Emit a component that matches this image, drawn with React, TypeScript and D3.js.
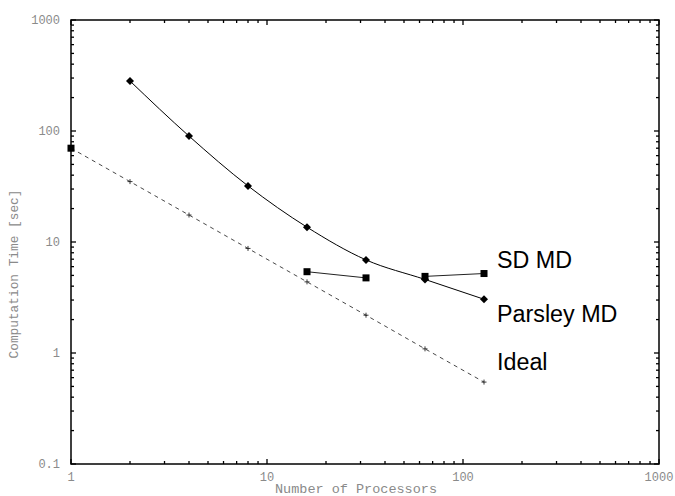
import React from "react";
import * as d3 from "d3";

// processors used in the runs
const procs = [1, 2, 4, 8, 16, 32, 64, 128];

// Parsley MD timings (sec), starts at 2 processors
const parsleyProcs = [2, 4, 8, 16, 32, 64, 128];
const parsleyTime = [282, 90, 32, 13.6, 6.9, 4.6, 3.05];

// SD MD timings, drawn as separate runs
const sdRuns = [
  { procs: [1], time: [70] },
  { procs: [16, 32], time: [5.4, 4.75] },
  { procs: [64, 128], time: [4.9, 5.2] },
];

// ideal speedup from the serial time
const idealTime = [70, 35, 17.5, 8.75, 4.375, 2.19, 1.09, 0.547];

const xTickLabels = ["1", "10", "100", "1000"];
const yTickLabels = ["0.1", "1", "10", "100", "1000"];

const W = 675;
const H = 496;
const margin = { top: 20, right: 16, bottom: 32, left: 71 };

const App = () => {
  const x = d3
    .scaleLog()
    .domain([1, 1000])
    .range([margin.left, W - margin.right]);
  const y = d3
    .scaleLog()
    .domain([0.1, 1000])
    .range([H - margin.bottom, margin.top]);

  const [x0, x1] = x.range();
  const [y0, y1] = y.range();

  const minorX: number[] = [];
  for (const d of [1, 10, 100]) for (let k = 2; k <= 9; k++) minorX.push(d * k);
  const minorY: number[] = [];
  for (const d of [0.1, 1, 10, 100]) for (let k = 2; k <= 9; k++) minorY.push(d * k);

  const smooth = d3
    .line<number>()
    .x((_, i) => x(parsleyProcs[i]))
    .y((d) => y(d))
    .curve(d3.curveMonotoneX);

  const straight = d3
    .line<[number, number]>()
    .x((d) => x(d[0]))
    .y((d) => y(d[1]));

  const tickFont = {
    fontFamily: "'Liberation Mono', monospace",
    fontSize: 12,
    fill: "#8a8a8a",
  };
  const titleFont = { ...tickFont, fontSize: 13.5 };
  const labelFont = {
    fontFamily: "'Liberation Sans', Arial, sans-serif",
    fontSize: 23.3,
    fill: "#000",
  };

  return (
    <svg
      width={W}
      height={H}
      style={{ position: "absolute", left: 0, top: 0, background: "#fff" }}
    >
      {/* ticks */}
      <g stroke="#000" strokeWidth={1.3}>
        {xTickLabels.map((t) => (
          <g key={"xm" + t}>
            <line x1={x(+t)} x2={x(+t)} y1={y0} y2={y0 - 5} />
            <line x1={x(+t)} x2={x(+t)} y1={y1} y2={y1 + 5} />
          </g>
        ))}
        {minorX.map((t) => (
          <g key={"xn" + t}>
            <line x1={x(t)} x2={x(t)} y1={y0} y2={y0 - 3} />
            <line x1={x(t)} x2={x(t)} y1={y1} y2={y1 + 3} />
          </g>
        ))}
        {yTickLabels.map((t) => (
          <g key={"ym" + t}>
            <line x1={x0} x2={x0 + 5} y1={y(+t)} y2={y(+t)} />
            <line x1={x1} x2={x1 - 5} y1={y(+t)} y2={y(+t)} />
          </g>
        ))}
        {minorY.map((t) => (
          <g key={"yn" + t}>
            <line x1={x0} x2={x0 + 3} y1={y(t)} y2={y(t)} />
            <line x1={x1} x2={x1 - 3} y1={y(t)} y2={y(t)} />
          </g>
        ))}
      </g>

      {/* frame */}
      <rect
        x={x0}
        y={y1}
        width={x1 - x0}
        height={y0 - y1}
        fill="none"
        stroke="#000"
        strokeWidth={1.5}
      />

      {/* tick labels */}
      {xTickLabels.map((t) => (
        <text key={"xl" + t} x={x(+t)} y={y0 + 17} textAnchor="middle" {...tickFont}>
          {t}
        </text>
      ))}
      {yTickLabels.map((t) => (
        <text
          key={"yl" + t}
          x={60}
          y={y(+t)}
          dy="0.35em"
          textAnchor="end"
          {...tickFont}
        >
          {t}
        </text>
      ))}

      {/* axis titles */}
      <text x={356} y={493} textAnchor="middle" {...titleFont}>
        Number of Processors
      </text>
      <text
        transform="translate(18,274) rotate(-90)"
        textAnchor="middle"
        {...titleFont}
        fontSize={12.8}
      >
        Computation Time [sec]
      </text>

      {/* ideal */}
      <path
        d={straight(procs.map((p, i) => [p, idealTime[i]]) as [number, number][]) || ""}
        fill="none"
        stroke="#333"
        strokeWidth={0.9}
        strokeDasharray="4,4"
      />
      {procs.map((p, i) => (
        <g key={"ip" + p} stroke="#222" strokeWidth={0.9}>
          <line x1={x(p) - 2.5} x2={x(p) + 2.5} y1={y(idealTime[i])} y2={y(idealTime[i])} />
          <line x1={x(p)} x2={x(p)} y1={y(idealTime[i]) - 2.5} y2={y(idealTime[i]) + 2.5} />
        </g>
      ))}

      {/* SD MD */}
      {sdRuns.map((r, k) => (
        <g key={"sd" + k}>
          {r.procs.length > 1 && (
            <path
              d={straight(r.procs.map((p, i) => [p, r.time[i]]) as [number, number][]) || ""}
              fill="none"
              stroke="#222"
              strokeWidth={1}
            />
          )}
          {r.procs.map((p, i) => (
            <rect
              key={p}
              x={x(p) - 3.5}
              y={y(r.time[i]) - 3.5}
              width={7}
              height={7}
              fill="#000"
            />
          ))}
        </g>
      ))}

      {/* Parsley MD */}
      <path
        d={smooth(parsleyTime) || ""}
        fill="none"
        stroke="#000"
        strokeWidth={1}
      />
      {parsleyProcs.map((p, i) => {
        const cx = x(p);
        const cy = y(parsleyTime[i]);
        return (
          <path
            key={"pp" + p}
            d={`M${cx},${cy - 4}L${cx + 4},${cy}L${cx},${cy + 4}L${cx - 4},${cy}Z`}
            fill="#000"
          />
        );
      })}

      {/* series labels */}
      <text x={497} y={268} {...labelFont}>SD MD</text>
      <text x={497} y={322} {...labelFont}>Parsley MD</text>
      <text x={497} y={370} {...labelFont}>Ideal</text>
    </svg>
  );
};

export default App;
